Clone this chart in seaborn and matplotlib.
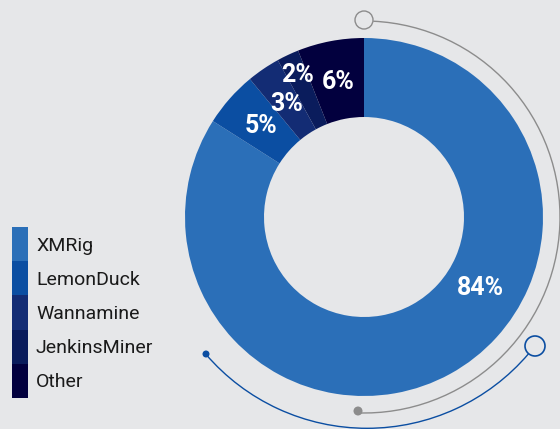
import numpy as np
import matplotlib
matplotlib.use("Agg")
import matplotlib.pyplot as plt
from matplotlib.patches import Arc, Circle, Rectangle
import seaborn as sns

categories = ["XMRig", "LemonDuck", "Wannamine", "JenkinsMiner", "Other"]
values = [84, 5, 3, 2, 6]
labels = ["84%", "5%", "3%", "2%", "6%"]
colors = ["#2B6FB8", "#0B4EA2", "#132C74", "#0A1C5C", "#02003E"]

BG = "#E6E7E9"
sns.set_theme(style="white")
plt.rcParams["font.family"] = ["Roboto", "DejaVu Sans"]

W, H = 560, 429
fig = plt.figure(figsize=(W / 100, H / 100), dpi=100, facecolor=BG)
ax = fig.add_axes([0, 0, 1, 1])
ax.set_facecolor(BG)

cx, cy = 364, 212
R, r_in = 179, 100
wedges, _ = ax.pie(values, colors=colors, startangle=90, counterclock=False,
                   radius=R, center=(cx, cy), frame=True,
                   wedgeprops=dict(width=R - r_in, edgecolor="none"))
ax.set_xlim(0, W)
ax.set_ylim(0, H)
ax.set_aspect("equal")
ax.axis("off")

# labels at wedge mid-angles (with a couple of adjustments as in the reference)
for i, w in enumerate(wedges):
    ang = (w.theta1 + w.theta2) / 2
    rr = 137
    if i == 0:
        ang = -31.5
        rr = 136
    if i == 3:
        rr = 157
    x = cx + rr * np.cos(np.radians(ang))
    y = cy + rr * np.sin(np.radians(ang))
    ax.text(x, y, labels[i], color="white", fontsize=18, fontweight="bold",
            ha="center", va="center")

# decorative arcs
grey = "#8C8C8C"
ax.add_patch(Arc((cx, cy), 2 * 196, 2 * 196, theta1=-92, theta2=87.3, color=grey, lw=1))
ax.add_patch(Circle((364, H - 20), 9, facecolor=BG, edgecolor=grey, lw=1, zorder=5))
ax.add_patch(Circle((358, H - 411), 4.5, facecolor=grey, edgecolor="none", zorder=5))

blue = "#0B4EA2"
ax.add_patch(Arc((367, 213), 2 * 212.3, 2 * 212.3, theta1=-139.4, theta2=-40.5, color=blue, lw=1))
ax.add_patch(Circle((206, H - 354), 3.5, facecolor=blue, edgecolor="none", zorder=5))
ax.add_patch(Circle((535, H - 346), 10, facecolor=BG, edgecolor=blue, lw=1.2, zorder=5))

# legend: continuous colour bar with labels
row_h = 34.2
top = H - 227
for i, (c, name) in enumerate(zip(colors, categories)):
    y0 = top - (i + 1) * row_h
    ax.add_patch(Rectangle((12, y0), 16, row_h, facecolor=c, edgecolor="none"))
    ax.text(36, y0 + row_h / 2 - 1.5, name, fontsize=14, color="#1a1a1a",
            ha="left", va="center")

fig.savefig("out.png", dpi=100, facecolor=BG)
